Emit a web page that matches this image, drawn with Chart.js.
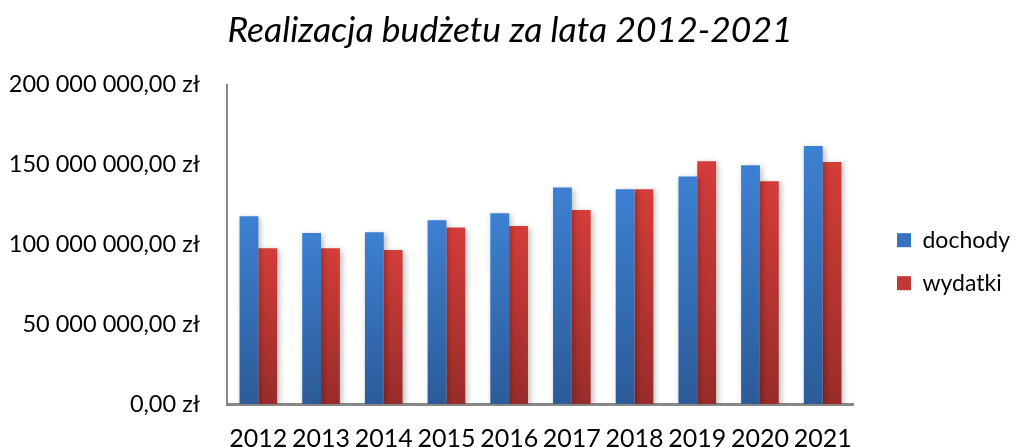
<!DOCTYPE html>
<html>
<head>
<meta charset="utf-8">
<script src="https://cdn.jsdelivr.net/npm/chart.js@4"></script>
<style>
  html, body { margin: 0; padding: 0; background: #fff; }
  #wrap { width: 1016px; height: 447px; }
</style>
</head>
<body>
<div id="wrap"><canvas id="chart"></canvas></div>
<script>
const years = ['2012', '2013', '2014', '2015', '2016', '2017', '2018', '2019', '2020', '2021'];
const dochody = [117.5, 107, 107.5, 115, 119.5, 135.5, 134.5, 142.5, 149.5, 161.5].map(v => v * 1e6);
const wydatki = [97.5, 97.5, 96.5, 110.5, 111.5, 121.5, 134.5, 152, 139.5, 151.5].map(v => v * 1e6);
const yTicks = [0, 50e6, 100e6, 150e6, 200e6];

const FONT = 'Lato, "Open Sans", sans-serif';

// ticks like "150 000 000,00 zł"
function formatZl(v) {
    const parts = v.toFixed(2).split('.');
    const whole = parts[0].replace(/\B(?=(\d{3})+(?!\d))/g, ' ');
    return whole + ',' + parts[1] + ' zł';
}

// vertical gradient per bar, light on top, dark at the base
function barGradient(top, bottom) {
    return (ctx) => {
        const chart = ctx.chart;
        if (!chart.chartArea || ctx.type !== 'data') return top;
        const yScale = chart.scales.y;
        const val = ctx.dataset.data[ctx.dataIndex];
        const g = chart.ctx.createLinearGradient(0, yScale.getPixelForValue(val), 0, yScale.getPixelForValue(0));
        g.addColorStop(0, top);
        g.addColorStop(1, bottom);
        return g;
    };
}

const barShadow = {
    id: 'barShadow',
    beforeDatasetsDraw(chart) {
        const c = chart.ctx;
        c.save();
        c.shadowColor = 'rgba(0,0,0,0.28)';
        c.shadowBlur = 6;
        c.shadowOffsetX = 2;
        c.shadowOffsetY = 2;
    },
    afterDatasetsDraw(chart) {
        chart.ctx.restore();
    }
};

const myChart = new Chart(document.getElementById('chart'), {
    type: 'bar',
    data: {
        labels: years,
        datasets: [
            { label: 'dochody', data: dochody, backgroundColor: barGradient('#3d80d2', '#2c5b98') },
            { label: 'wydatki', data: wydatki, backgroundColor: barGradient('#d43d39', '#982c2a') },
        ],
    },
    options: {
        responsive: true,
        maintainAspectRatio: false,
        animation: false,
        datasets: {
            bar: { categoryPercentage: 0.6, barPercentage: 1.0 }
        },
        layout: { padding: { left: 0, right: -4, top: 4, bottom: 0 } },
        plugins: {
            title: {
                display: true,
                text: 'Realizacja budżetu za lata 2012-2021',
                color: '#000',
                font: { family: FONT, size: 35.5, style: 'italic', weight: 'normal' },
                padding: { top: 5, bottom: 33 },
            },
            legend: {
                position: 'right',
                title: { display: true, text: '', padding: { top: 58, bottom: 0 } },
                labels: {
                    color: '#000',
                    font: { family: FONT, size: 23 },
                    boxWidth: 14,
                    boxHeight: 14,
                    padding: 20,
                    generateLabels(chart) {
                        return chart.data.datasets.map((ds, i) => ({
                            text: ds.label,
                            fillStyle: i === 0 ? '#3672c0' : '#c23835',
                            strokeStyle: 'transparent',
                            fontColor: '#000',
                            lineWidth: 0,
                            datasetIndex: i,
                        }));
                    },
                },
            },
            tooltip: { enabled: false },
        },
        scales: {
            x: {
                grid: { display: false, drawTicks: false },
                border: { display: true, color: '#888888', width: 3 },
                ticks: { color: '#000', font: { family: FONT, size: 25 }, padding: 20, maxRotation: 0 },
                afterFit(s) { s.height = 43; },
            },
            y: {
                min: 0,
                max: 200e6,
                afterBuildTicks(axis) {
                    axis.ticks = yTicks.map(v => ({ value: v }));
                },
                grid: { display: false, drawTicks: false },
                border: { display: true, color: '#888888', width: 2 },
                ticks: {
                    color: '#000',
                    font: { family: FONT, size: 23.5 },
                    padding: 27,
                    callback: (v) => formatZl(v),
                },
                afterFit(s) { s.width = 227; },
            },
            // empty spacer between plot and legend
            gap: {
                position: 'right',
                display: true,
                grid: { display: false, drawTicks: false },
                border: { display: false },
                ticks: { display: false },
                afterFit(s) { s.width = 23; },
            },
        },
    },
    plugins: [barShadow],
});
</script>
</body>
</html>
